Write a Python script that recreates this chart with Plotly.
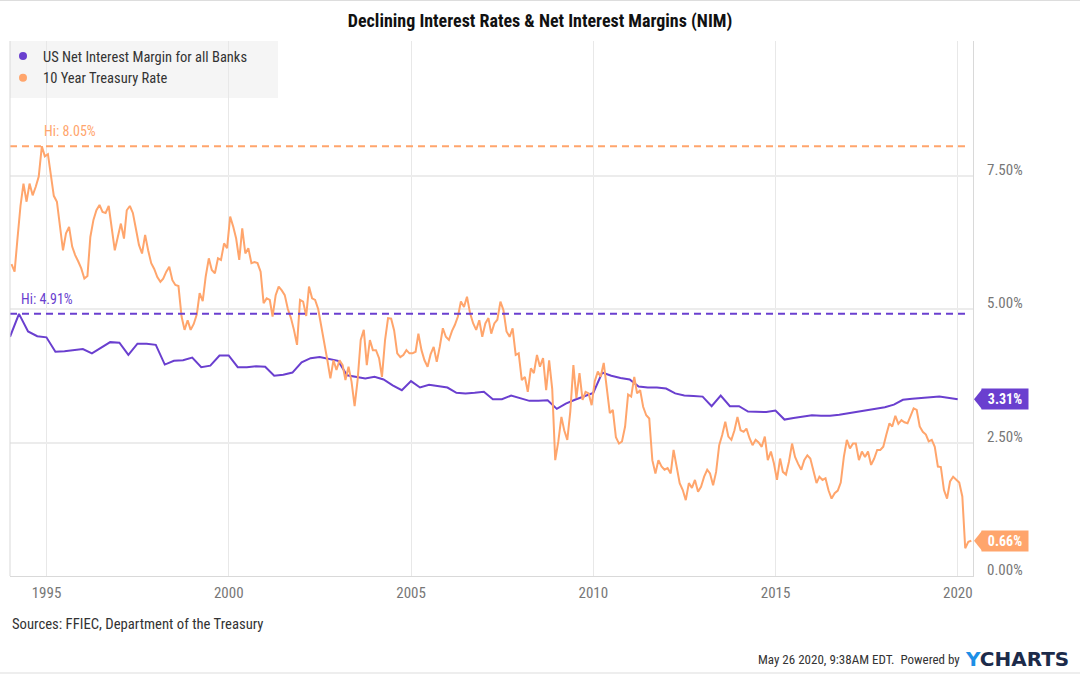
import plotly.graph_objects as go
import pandas as pd

TITLE = "Declining Interest Rates & Net Interest Margins (NIM)"
NIM_NAME = "US Net Interest Margin for all Banks"
TSY_NAME = "10 Year Treasury Rate"
SOURCE_TEXT = "Sources: FFIEC, Department of the Treasury"
STAMP_TEXT = "May 26 2020, 9:38AM EDT.  Powered by"

# Quarterly NIM (%), quarter ends starting 1993-12-31
nim_values = [
    4.48, 4.91, 4.58, 4.49, 4.47, 4.20, 4.21, 4.23, 4.25, 4.17, 4.27, 4.38, 4.37,
    4.14, 4.35, 4.35, 4.33, 3.96, 4.03, 4.04, 4.09, 3.91, 3.94, 4.13, 4.13,
    3.91, 3.91, 3.93, 3.92, 3.75, 3.77, 3.81, 4.00, 4.08, 4.10, 4.06, 4.03,
    3.76, 3.73, 3.70, 3.73, 3.68, 3.57, 3.48, 3.65, 3.53, 3.58, 3.55, 3.53,
    3.43, 3.42, 3.43, 3.45, 3.31, 3.31, 3.38, 3.33, 3.28, 3.28, 3.29, 3.13,
    3.23, 3.30, 3.36, 3.43, 3.81, 3.75, 3.71, 3.68, 3.55, 3.53, 3.53, 3.51,
    3.42, 3.38, 3.37, 3.36, 3.18, 3.38, 3.18, 3.18, 3.08, 3.07, 3.07, 3.10,
    2.93, 2.96, 2.98, 3.01, 3.00, 3.00, 3.02, 3.05, 3.08, 3.11, 3.13, 3.16,
    3.21, 3.30, 3.32, 3.34, 3.35, 3.36, 3.33, 3.31,
]
nim_start = "1993-12-31"

# Monthly 10 Year Treasury rate (%), Jan 1994 .. May 2020
tsy_values = [
    5.84, 5.70, 6.30, 6.93, 7.35, 7.01, 7.35, 7.13, 7.29, 7.48, 8.05, 7.86,  # 1994
    7.90, 7.51, 7.12, 7.01, 6.57, 6.10, 6.42, 6.54, 6.17, 6.01, 5.89, 5.76,  # 1995
    5.57, 5.62, 6.35, 6.67, 6.85, 6.95, 6.82, 6.80, 6.93, 6.54, 6.10, 6.35,  # 1996
    6.60, 6.32, 6.85, 6.93, 6.80, 6.50, 6.20, 6.04, 6.39, 6.10, 5.86, 5.75,  # 1997
    5.60, 5.51, 5.57, 5.70, 5.79, 5.54, 5.45, 5.43, 4.86, 4.61, 4.79, 4.61,  # 1998
    4.72, 4.90, 5.30, 5.15, 5.61, 5.95, 5.73, 5.67, 5.95, 5.92, 6.23, 6.14,  # 1999
    6.73, 6.54, 6.32, 5.92, 6.51, 6.04, 6.14, 5.86, 5.88, 5.86, 5.70, 5.11,  # 2000
    5.20, 5.17, 4.86, 5.26, 5.42, 5.35, 5.26, 5.00, 4.83, 4.61, 4.33, 5.17,  # 2001
    5.14, 4.87, 5.42, 5.20, 5.17, 5.00, 4.70, 4.42, 4.04, 3.70, 4.04, 3.86,  # 2002
    4.04, 3.95, 3.67, 3.92, 3.64, 3.18, 3.67, 4.42, 4.61, 3.95, 4.42, 4.23,  # 2003
    4.23, 4.08, 3.73, 4.42, 4.83, 4.82, 4.60, 4.17, 4.10, 4.14, 4.23, 4.17,  # 2004
    4.17, 4.20, 4.54, 4.23, 4.04, 3.92, 4.15, 4.29, 4.01, 4.29, 4.64, 4.48,  # 2005
    4.42, 4.59, 4.70, 4.86, 5.14, 5.04, 5.23, 4.92, 4.73, 4.61, 4.79, 4.48,  # 2006
    4.73, 4.83, 4.54, 4.73, 4.80, 5.14, 4.98, 4.58, 4.48, 4.64, 4.14, 4.17,  # 2007
    3.67, 3.73, 3.45, 3.89, 3.80, 4.14, 3.92, 4.08, 3.48, 4.04, 3.50, 2.17,  # 2008
    2.52, 2.98, 2.73, 2.55, 3.08, 3.95, 3.33, 3.80, 3.30, 3.45, 3.42, 3.20,  # 2009
    3.65, 3.83, 3.73, 3.99, 3.50, 3.05, 3.11, 2.60, 2.48, 2.52, 2.80, 3.40,  # 2010
    3.36, 3.73, 3.42, 3.48, 3.17, 3.01, 2.95, 2.17, 1.92, 2.17, 2.05, 1.99,  # 2011
    2.02, 1.92, 2.36, 2.02, 1.74, 1.61, 1.42, 1.74, 1.65, 1.80, 1.58, 1.67,  # 2012
    1.86, 1.99, 1.92, 1.70, 1.95, 2.45, 2.64, 2.89, 2.61, 2.55, 2.73, 2.98,  # 2013
    2.73, 2.70, 2.76, 2.58, 2.45, 2.55, 2.50, 2.42, 2.61, 2.17, 2.33, 2.11,  # 2014
    1.80, 2.20, 1.95, 1.90, 2.14, 2.48, 2.23, 2.10, 1.99, 2.17, 2.26, 2.20,  # 2015
    1.99, 1.74, 1.86, 1.80, 1.83, 1.60, 1.45, 1.55, 1.60, 1.75, 2.23, 2.55,  # 2016
    2.39, 2.48, 2.48, 2.17, 2.33, 2.23, 2.33, 2.08, 2.20, 2.36, 2.36, 2.42,  # 2017
    2.65, 2.86, 2.80, 3.00, 2.85, 2.92, 2.88, 2.86, 3.00, 3.14, 3.11, 2.80,  # 2018
    2.70, 2.65, 2.52, 2.55, 2.42, 2.05, 2.04, 1.61, 1.45, 1.77, 1.86, 1.80,  # 2019
    1.75, 1.49, 0.52, 0.64, 0.66,                                            # 2020
]
tsy_start = "1994-01-01"

y_tick_values = [0, 2.5, 5, 7.5]
y_tick_labels = ["0.00%", "2.50%", "5.00%", "7.50%"]
x_range = ["1993-12-31", "2020-06-01"]
y_range = [0, 10.02]

try:
    nim_dates = pd.date_range(nim_start, periods=len(nim_values), freq="QE")
except Exception:
    nim_dates = pd.date_range(nim_start, periods=len(nim_values), freq="Q")
tsy_dates = pd.date_range(tsy_start, periods=len(tsy_values), freq="MS") + pd.Timedelta(days=14)

PURPLE = "#6a3fcf"
ORANGE = "#ffa56c"
FONT = "Roboto Condensed, Liberation Sans Narrow, Arial Narrow, Roboto, sans-serif"

W, H = 1080, 675
ML, MR, MT, MB = 10, 107, 41, 99
PW = W - ML - MR
PH = H - MT - MB


def px_x(px):
    return (px - ML) / PW


def px_y(py):
    return (H - MB - py) / PH


fig = go.Figure()
fig.add_trace(go.Scatter(x=nim_dates, y=nim_values, mode="lines", name=NIM_NAME,
                         line=dict(color=PURPLE, width=2), showlegend=False))
fig.add_trace(go.Scatter(x=tsy_dates, y=tsy_values, mode="lines", name=TSY_NAME,
                         line=dict(color=ORANGE, width=2), showlegend=False))
# legend entries (dots)
fig.add_trace(go.Scatter(x=[None], y=[None], mode="markers", name=NIM_NAME,
                         marker=dict(color=PURPLE, size=8)))
fig.add_trace(go.Scatter(x=[None], y=[None], mode="markers", name=TSY_NAME,
                         marker=dict(color=ORANGE, size=8)))

shapes = []
annotations = []

# legend background
shapes.append(dict(type="rect", xref="paper", yref="paper", x0=0, x1=px_x(278),
                   y0=px_y(98), y1=1, fillcolor="#f5f5f5", line=dict(width=0), layer="below"))

# Hi lines and labels
for vals, dates, color in ((tsy_values, tsy_dates, ORANGE), (nim_values, nim_dates, PURPLE)):
    vmax = max(vals)
    imax = vals.index(vmax)
    shapes.append(dict(type="line", xref="paper", yref="y", x0=0, x1=px_x(968),
                       y0=vmax, y1=vmax, line=dict(color=color, width=2, dash="7px,5px")))
    annotations.append(dict(x=dates[imax], y=vmax, xref="x", yref="y", xanchor="left",
                            yanchor="middle", yshift=15, showarrow=False,
                            text=f"Hi: {vmax:.2f}%", font=dict(family=FONT, size=14, color=color)))

# last value tags
for vals, color in ((nim_values, PURPLE), (tsy_values, ORANGE)):
    last = vals[-1]
    half = 10 / (PH / (y_range[1] - y_range[0]))
    shapes.append(dict(type="path", xref="paper", yref="y",
                       path=f"M {px_x(974)},{last} L {px_x(982)},{last + half} "
                            f"L {px_x(982)},{last - half} Z",
                       fillcolor=color, line=dict(width=0)))
    annotations.append(dict(x=px_x(981), y=last, xref="paper", yref="y", xanchor="left",
                            yanchor="middle", showarrow=False, text=f"<b>{last:.2f}%</b>",
                            bgcolor=color, borderpad=2, width=42, align="center",
                            font=dict(family=FONT, size=14, color="white")))

# frame lines
shapes.append(dict(type="line", xref="paper", yref="paper", x0=0, x1=0, y0=0, y1=1,
                   line=dict(color="#d9d9d9", width=1)))
shapes.append(dict(type="line", xref="paper", yref="paper", x0=px_x(0), x1=px_x(W),
                   y0=px_y(0.5), y1=px_y(0.5), line=dict(color="#dddddd", width=1)))
shapes.append(dict(type="line", xref="paper", yref="paper", x0=px_x(0), x1=px_x(W),
                   y0=px_y(673), y1=px_y(673), line=dict(color="#dddddd", width=1)))

# footer
annotations.append(dict(x=0, y=px_y(624), xref="paper", yref="paper", xanchor="left",
                        yanchor="middle", showarrow=False, text=SOURCE_TEXT,
                        font=dict(family=FONT, size=14.7, color="#333333")))
annotations.append(dict(x=px_x(962), y=px_y(659), xref="paper", yref="paper", xanchor="right",
                        yanchor="middle", showarrow=False, text=STAMP_TEXT,
                        font=dict(family=FONT, size=13, color="#333333")))
annotations.append(dict(x=px_x(1071), y=px_y(659), xref="paper", yref="paper", xanchor="right",
                        yanchor="middle", showarrow=False,
                        text='<b><span style="color:#1d8fe6">Y</span>CHARTS</b>',
                        font=dict(family="DejaVu Sans, sans-serif", size=20, color="#1c2b4a")))

fig.update_layout(
    width=W, height=H,
    margin=dict(l=ML, r=MR, t=MT, b=MB, autoexpand=False),
    paper_bgcolor="white", plot_bgcolor="white",
    title=dict(text=f"<b>{TITLE}</b>", x=0.5, xref="container", xanchor="center",
               y=1 - 21 / H, yref="container", yanchor="middle",
               font=dict(family=FONT, size=18, color="#111111")),
    legend=dict(x=px_x(3), y=1.0 + 1 / PH, xref="paper", yref="paper", xanchor="left",
                yanchor="top", bgcolor="rgba(0,0,0,0)",
                font=dict(family=FONT, size=14.5, color="#333333"),
                itemwidth=30, tracegroupgap=0),
    shapes=shapes, annotations=annotations,
    xaxis=dict(type="date", range=x_range, showgrid=True, gridcolor="#e8e8e8", gridwidth=1,
               dtick="M60", tick0="1995-01-01", tickformat="%Y", showline=True,
               linecolor="#d9d9d9", linewidth=1, ticks="", zeroline=False,
               ticklabelstandoff=3, tickfont=dict(family=FONT, size=15, color="#777777")),
    yaxis=dict(side="right", range=y_range, tickvals=y_tick_values, ticktext=y_tick_labels,
               showgrid=True, gridcolor="#ececec", gridwidth=1.5, showline=True,
               linecolor="#d9d9d9", linewidth=1, zeroline=False, ticks="",
               ticklabelstandoff=10, ticklabelshift=-6,
               tickfont=dict(family=FONT, size=15, color="#777777")),
    showlegend=True,
)

fig.write_html("out.html", config={"displayModeBar": False},
               post_script="document.body.style.margin='0';")
